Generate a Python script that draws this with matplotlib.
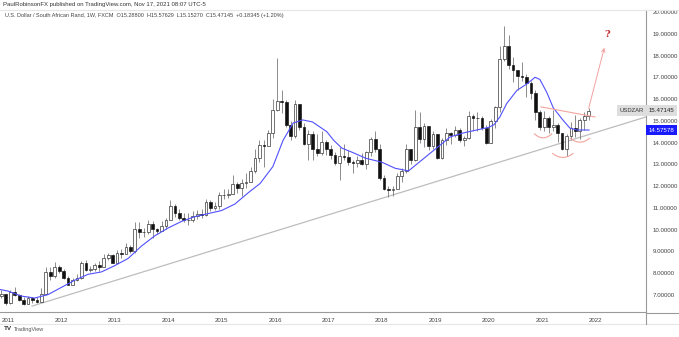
import numpy as np
import matplotlib
matplotlib.use("Agg")
import matplotlib.pyplot as plt
from matplotlib.patches import FancyArrowPatch
from matplotlib.transforms import blended_transform_factory
from matplotlib.lines import Line2D

plt.rcParams['font.family'] = ['Liberation Sans', 'DejaVu Sans']

# ---- USD/ZAR monthly candles (Mar 2010 .. Nov 2021) ----
first_year, first_month = 2010, 3
first_open = 7.38

month_close = [
    7.30, 7.35, 7.65, 7.67, 7.30, 7.30, 6.95, 6.95, 7.05, 6.62,                  # 2010 (Mar-Dec)
    7.15, 6.98, 6.78, 6.60, 6.85, 6.78, 6.70, 7.05, 8.05, 7.88, 8.30, 8.10,      # 2011
    7.80, 7.45, 7.68, 7.78, 8.45, 8.15, 8.20, 8.40, 8.30, 8.68, 8.85, 8.48,      # 2012
    8.95, 8.90, 9.22, 9.00, 10.05, 9.90, 9.90, 10.28, 10.05, 9.95, 10.15, 10.45, # 2013
    11.10, 10.75, 10.52, 10.45, 10.45, 10.62, 10.72, 10.67, 11.28, 11.00, 11.08, 11.58,  # 2014
    11.60, 11.62, 12.12, 11.90, 12.15, 12.20, 12.70, 13.30, 13.88, 13.85, 14.42, 15.50,  # 2015
    15.90, 15.85, 14.80, 14.28, 15.75, 14.70, 13.95, 14.40, 13.70, 13.50, 14.05, 13.70,  # 2016
    13.45, 13.05, 13.40, 13.35, 13.10, 13.05, 13.20, 13.00, 13.55, 14.15, 13.70, 12.38,  # 2017
    11.85, 11.80, 11.85, 12.45, 12.70, 13.72, 13.20, 14.70, 14.15, 14.75, 13.85, 14.40,  # 2018
    13.30, 14.10, 14.45, 14.35, 14.60, 14.10, 14.20, 15.20, 15.15, 15.12, 14.65, 14.00,  # 2019
    15.00, 15.65, 17.85, 18.45, 17.55, 17.35, 17.05, 17.00, 16.75, 16.30, 15.40, 14.70,  # 2020
    15.15, 14.70, 14.80, 14.45, 13.70, 14.30, 14.65, 14.55, 15.05, 15.20, 15.47145,      # 2021
]
month_high = [
    7.55, 7.50, 8.10, 7.85, 7.75, 7.45, 7.35, 7.10, 7.25, 7.05,
    7.25, 7.35, 7.05, 6.90, 6.95, 6.90, 6.90, 7.30, 8.30, 8.30, 8.50, 8.40,
    8.18, 7.85, 7.80, 7.95, 8.55, 8.60, 8.35, 8.45, 8.55, 8.90, 8.95, 8.90,
    9.05, 9.10, 9.40, 9.30, 10.35, 10.35, 10.10, 10.45, 10.40, 10.10, 10.40, 10.55,
    11.35, 11.20, 10.95, 10.75, 10.75, 10.85, 10.90, 10.95, 11.40, 11.35, 11.25, 11.75,
    11.85, 11.85, 12.50, 12.20, 12.35, 12.60, 12.90, 13.70, 14.10, 14.10, 14.60, 16.00,
    17.90, 16.40, 15.95, 15.00, 15.95, 15.70, 14.90, 14.60, 14.55, 14.40, 14.55, 14.10,
    13.90, 13.55, 13.80, 13.95, 13.65, 13.20, 13.40, 13.50, 13.60, 14.25, 14.55, 13.95,
    12.50, 12.00, 12.00, 12.60, 12.85, 13.95, 13.70, 15.50, 15.40, 14.90, 14.70, 14.55,
    14.40, 14.20, 14.65, 14.50, 14.75, 14.65, 14.30, 15.45, 15.30, 15.40, 15.20, 14.80,
    15.10, 15.70, 18.45, 19.35, 18.95, 17.95, 17.35, 17.70, 17.15, 16.85, 16.40, 15.50,
    15.45, 15.20, 15.50, 14.90, 14.45, 14.40, 14.95, 15.25, 15.15, 15.40, 15.58,
]
month_low = [
    7.20, 7.20, 7.35, 7.50, 7.25, 7.10, 6.90, 6.75, 6.85, 6.55,
    6.60, 6.95, 6.72, 6.55, 6.57, 6.65, 6.62, 6.85, 7.00, 7.70, 7.80, 8.00,
    7.75, 7.45, 7.50, 7.65, 7.75, 8.10, 8.05, 8.10, 8.10, 8.30, 8.60, 8.45,
    8.45, 8.70, 8.90, 8.95, 8.95, 9.60, 9.65, 9.80, 9.60, 9.80, 9.95, 10.05,
    10.45, 10.60, 10.45, 10.35, 10.20, 10.35, 10.50, 10.55, 10.65, 10.85, 10.90, 10.95,
    11.40, 11.45, 11.65, 11.70, 11.55, 11.90, 12.20, 12.60, 13.10, 12.90, 13.85, 14.20,
    15.45, 15.35, 14.70, 14.10, 14.20, 14.60, 13.90, 13.20, 13.20, 13.40, 13.45, 13.45,
    13.25, 12.95, 12.30, 13.20, 12.95, 12.60, 12.90, 12.95, 12.80, 13.40, 13.55, 12.30,
    11.80, 11.50, 11.55, 11.90, 12.20, 12.60, 13.00, 13.15, 14.00, 13.80, 13.65, 13.70,
    13.25, 13.25, 13.90, 13.95, 14.25, 14.05, 13.85, 14.15, 14.55, 14.55, 14.60, 13.95,
    14.00, 14.65, 15.40, 17.75, 17.40, 16.80, 16.40, 16.85, 16.10, 16.00, 15.05, 14.60,
    14.55, 14.45, 14.55, 14.05, 13.65, 13.40, 14.10, 14.25, 14.15, 14.60, 15.05,
]

# ---- moving average (blue line) ----
ma_time = [2010.75, 2011.00, 2011.25, 2011.50, 2011.75, 2012.00, 2012.25, 2012.50, 2012.75,
           2013.00, 2013.25, 2013.50, 2013.75, 2014.00, 2014.25, 2014.50, 2014.75,
           2015.00, 2015.25, 2015.50, 2015.72, 2015.96, 2016.15, 2016.34, 2016.52, 2016.70,
           2016.97, 2017.10, 2017.25, 2017.45, 2017.70, 2018.00, 2018.25, 2018.50, 2018.75,
           2019.00, 2019.28, 2019.52, 2019.78, 2020.00, 2020.10, 2020.21, 2020.34, 2020.53,
           2020.72, 2020.87, 2020.96, 2021.09, 2021.21, 2021.39, 2021.52, 2021.65, 2021.88]
ma_value = [7.30, 7.18, 6.95, 6.86, 7.02, 7.35, 7.68, 7.95, 8.06,
            8.35, 8.68, 9.25, 9.72, 10.08, 10.38, 10.60, 10.74,
            10.88, 11.18, 11.70, 12.12, 12.90, 14.10, 14.90, 15.04, 14.95,
            14.50, 14.10, 13.75, 13.55, 13.28, 13.10, 12.82, 12.70, 13.20,
            13.70, 14.26, 14.44, 14.58, 14.70, 14.82, 15.18, 15.80, 16.40,
            16.70, 17.00, 16.90, 16.30, 15.60, 15.04, 14.67, 14.58, 14.57578]

# ---- drawn annotations (date, price) ----
trend_start = (2011.45, 6.49)
trend_end = (2022.95, 15.18)
neck_start = (2020.98, 15.64)
neck_end = (2021.99, 15.18)
target_start = (2021.86, 15.45)
target_end = (2022.18, 18.48)
question_pos = (2022.22, 18.95)
arc_centre = [2021.02, 2021.39, 2021.71]
arc_bottom = [14.22, 13.32, 14.02]
arc_halfwidth = [0.16, 0.19, 0.18]
arc_depth = [0.18, 0.18, 0.18]

last_price = 15.47145
year_ticks = list(range(2011, 2023))
price_ticks = list(range(7, 21))

# ---- figure ----
W, H = 679, 337
fig = plt.figure(figsize=(W / 100, H / 100), dpi=100)
ax = fig.add_axes([0, 25 / H, 646 / W, 302 / H])
ax.set_xlim(2010.85, 2022.947)
ax.set_ylim(6.219, 20.09)

n = len(month_close)
t = np.array([first_year + (first_month - 1 + i + 0.5) / 12.0 for i in range(n)])
c = np.array(month_close)
hi = np.array(month_high)
lo = np.array(month_low)
o = np.concatenate([[first_open], c[:-1]])
up = c >= o

ax.vlines(t, lo, hi, color='#7a7a7a', lw=0.6, zorder=2)
bw = 0.62 / 12
ax.bar(t[up], (c - o)[up], bottom=o[up], width=bw, color='white',
       edgecolor='#222222', lw=0.45, zorder=3)
ax.bar(t[~up], (c - o)[~up], bottom=o[~up], width=bw, color='#111111',
       edgecolor='#111111', lw=0.45, zorder=3)

ax.plot(ma_time, ma_value, color='#5050ff', lw=0.8, zorder=4)

# support trendline
ax.plot([trend_start[0], trend_end[0]], [trend_start[1], trend_end[1]],
        color='#bdbdbd', lw=0.9, zorder=1)
# neckline
ax.plot([neck_start[0], neck_end[0]], [neck_start[1], neck_end[1]],
        color='#f2a49c', lw=0.8, zorder=5)
# shoulder / head arcs
u = np.linspace(-1, 1, 40)
for cx, by, hw, dp in zip(arc_centre, arc_bottom, arc_halfwidth, arc_depth):
    ax.plot(cx + hw * u, by + dp * u ** 2, color='#f2a49c', lw=0.8, zorder=5)
# projected move
ax.add_patch(FancyArrowPatch(target_start, target_end, arrowstyle='->',
                             mutation_scale=6, color='#f4a0a0', lw=0.7, zorder=5))
ax.text(question_pos[0], question_pos[1], '?', color='#c62828', fontsize=7,
        fontweight='bold', family=['DejaVu Serif'], ha='center', va='center', zorder=6)

# axes styling
for s in ['top', 'left']:
    ax.spines[s].set_visible(False)
ax.spines['bottom'].set_color('#9a9a9a')
ax.spines['bottom'].set_linewidth(0.8)
ax.spines['right'].set_color('#9a9a9a')
ax.spines['right'].set_linewidth(0.8)

ax.yaxis.tick_right()
ax.set_yticks(price_ticks)
ax.set_yticklabels([f'{v:.5f}' for v in price_ticks])
ax.set_xticks(year_ticks)
ax.set_xticklabels([str(y) for y in year_ticks])
ax.tick_params(axis='y', length=0, pad=5, labelsize=4.4, labelcolor='#444444')
ax.tick_params(axis='x', length=0, pad=4, labelsize=4.4, labelcolor='#444444')

# price tags
tr = blended_transform_factory(ax.transAxes, ax.transData)
ax.text(1.004, last_price, f'{last_price:.5f}', transform=tr, fontsize=4.4,
        color='#222222', ha='left', va='center', zorder=7, clip_on=False,
        bbox=dict(boxstyle='square,pad=0.45', fc='#dedede', ec='none'))
ax.text(0.997, last_price, 'USDZAR', transform=tr, fontsize=4.2,
        color='#333333', ha='right', va='center', zorder=7,
        bbox=dict(boxstyle='square,pad=0.45', fc='#dedede', ec='none'))
ax.text(1.004, ma_value[-1], f'{ma_value[-1]:.5f}', transform=tr, fontsize=4.4,
        color='white', ha='left', va='center', zorder=7, clip_on=False,
        bbox=dict(boxstyle='square,pad=0.45', fc='#1a1aff', ec='none'))

# frame lines of the widget
def hline(ypx, color, x0=0, x1=W, lw=0.8):
    fig.add_artist(Line2D([x0 / W, x1 / W], [1 - ypx / H, 1 - ypx / H],
                          color=color, lw=lw, transform=fig.transFigure))

hline(312.5, '#9a9a9a', 646, W)
hline(10, '#e6e6e6')
hline(323.5, '#e6e6e6')
fig.add_artist(Line2D([646 / W, 646 / W], [1 - 323.5 / H, 1 - 312 / H],
                      color='#9a9a9a', lw=0.8, transform=fig.transFigure))

# header texts
fig.text(3 / W, 1 - 4.5 / H, 'PaulRobinsonFX published on TradingView.com, Nov 17, 2021 08:07 UTC-5',
         fontsize=4.3, color='#333333', ha='left', va='center')
fig.text(5 / W, 1 - 15 / H,
         'U.S. Dollar / South African Rand, 1W, FXCM  O15.28800  H15.57629  L15.15270  C15.47145  +0.18345 (+1.20%)',
         fontsize=4.0, color='#444444', ha='left', va='center')
fig.text(4 / W, 1 - 329 / H, 'TV', fontsize=4.6, fontweight='bold', color='#333333',
         ha='left', va='center')
fig.text(14 / W, 1 - 329 / H, 'TradingView', fontsize=4.0, color='#555555',
         ha='left', va='center')

fig.savefig('out.png', dpi=100, facecolor='white')
